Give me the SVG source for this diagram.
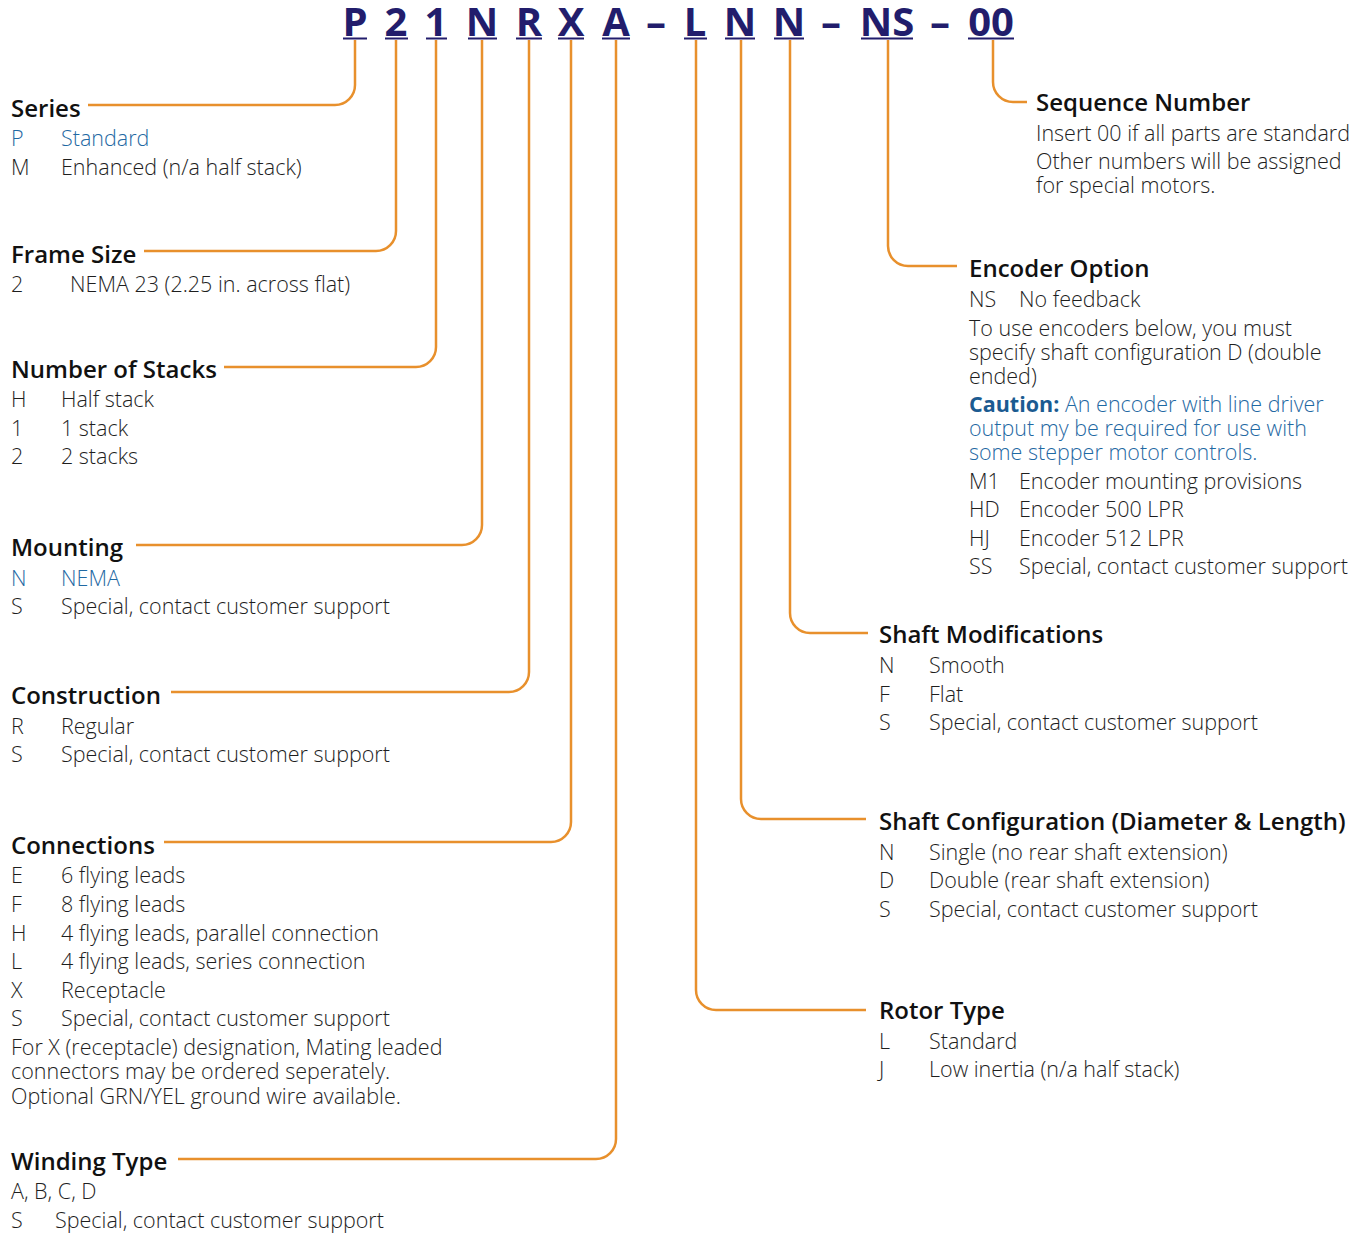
<svg xmlns="http://www.w3.org/2000/svg" width="1367" height="1234" viewBox="0 0 1367 1234">
  <style>
    .code { font-family: "Open Sans", "Noto Sans", "Liberation Sans", sans-serif; font-weight: 700; font-size: 40px; fill: #221d6c; text-anchor: middle; }
    .ul { stroke: #221d6c; stroke-width: 2; }
    .lead { fill: none; stroke: #e8902c; stroke-width: 2.5; }
    .h { font-family: "Open Sans", "Noto Sans", "Liberation Sans", sans-serif; font-weight: 600; font-size: 24px; fill: #111111; }
    .t { font-family: "Open Sans", "Noto Sans", "Liberation Sans", sans-serif; font-weight: 300; font-size: 21.5px; fill: #1e1e1e; }
    .b { fill: #1f69a3; }
    .cb { font-weight: 700; fill: #1b5b91; }
  </style>
  <rect width="1367" height="1234" fill="#ffffff"/>

  <!-- part number code -->
  <g id="code">
    <text class="code" x="355" y="36">P</text>
    <text class="code" x="396" y="36">2</text>
    <text class="code" x="436" y="36">1</text>
    <text class="code" x="482" y="36">N</text>
    <text class="code" x="529" y="36">R</text>
    <text class="code" x="571" y="36">X</text>
    <text class="code" x="616" y="36">A</text>
    <text class="code" x="656" y="36">–</text>
    <text class="code" x="695" y="36">L</text>
    <text class="code" x="740" y="36">N</text>
    <text class="code" x="789" y="36">N</text>
    <text class="code" x="831" y="36">–</text>
    <text class="code" x="887" y="36">NS</text>
    <text class="code" x="940" y="36">–</text>
    <text class="code" x="991" y="36">00</text>
    <line class="ul" x1="343" y1="38.5" x2="367" y2="38.5"/>
    <line class="ul" x1="385" y1="38.5" x2="408" y2="38.5"/>
    <line class="ul" x1="426" y1="38.5" x2="447" y2="38.5"/>
    <line class="ul" x1="468" y1="38.5" x2="497" y2="38.5"/>
    <line class="ul" x1="516" y1="38.5" x2="542" y2="38.5"/>
    <line class="ul" x1="558" y1="38.5" x2="584" y2="38.5"/>
    <line class="ul" x1="602" y1="38.5" x2="630" y2="38.5"/>
    <line class="ul" x1="684" y1="38.5" x2="707" y2="38.5"/>
    <line class="ul" x1="725" y1="38.5" x2="755" y2="38.5"/>
    <line class="ul" x1="774" y1="38.5" x2="804" y2="38.5"/>
    <line class="ul" x1="861" y1="38.5" x2="913" y2="38.5"/>
    <line class="ul" x1="968" y1="38.5" x2="1014" y2="38.5"/>
  </g>

  <!-- leader lines from each code position to its description -->
  <g id="connectors">
    <path class="lead" d="M355 40 V85 A20 20 0 0 1 335 105 H88"/>
    <path class="lead" d="M396 40 V231 A20 20 0 0 1 376 251 H144"/>
    <path class="lead" d="M436 40 V347 A20 20 0 0 1 416 367 H224"/>
    <path class="lead" d="M482 40 V525 A20 20 0 0 1 462 545 H136"/>
    <path class="lead" d="M529 40 V672 A20 20 0 0 1 509 692 H171"/>
    <path class="lead" d="M571 40 V822 A20 20 0 0 1 551 842 H164"/>
    <path class="lead" d="M616 40 V1139 A20 20 0 0 1 596 1159 H178"/>
    <path class="lead" d="M696 40 V990 A20 20 0 0 0 716 1010 H866"/>
    <path class="lead" d="M741 40 V799 A20 20 0 0 0 761 819 H866"/>
    <path class="lead" d="M790 40 V613 A20 20 0 0 0 810 633 H868"/>
    <path class="lead" d="M888 40 V246 A20 20 0 0 0 908 266 H957"/>
    <path class="lead" d="M993 40 V82 A20 20 0 0 0 1013 102 H1027"/>
  </g>

  <g id="series">
    <text class="h" x="11" y="117">Series</text>
    <text class="t b" x="11" y="146">P</text><text class="t b" x="61" y="146">Standard</text>
    <text class="t" x="11" y="175">M</text><text class="t" x="61" y="175">Enhanced (n/a half stack)</text>
  </g>

  <g id="frame-size">
    <text class="h" x="11" y="263">Frame Size</text>
    <text class="t" x="11" y="292">2</text><text class="t" x="70" y="292">NEMA 23 (2.25 in. across flat)</text>
  </g>

  <g id="stacks">
    <text class="h" x="11" y="378">Number of Stacks</text>
    <text class="t" x="11" y="407">H</text><text class="t" x="61" y="407">Half stack</text>
    <text class="t" x="11" y="436">1</text><text class="t" x="61" y="436">1 stack</text>
    <text class="t" x="11" y="464">2</text><text class="t" x="61" y="464">2 stacks</text>
  </g>

  <g id="mounting">
    <text class="h" x="11" y="556">Mounting</text>
    <text class="t b" x="11" y="586">N</text><text class="t b" x="61" y="586">NEMA</text>
    <text class="t" x="11" y="614">S</text><text class="t" x="61" y="614">Special, contact customer support</text>
  </g>

  <g id="construction">
    <text class="h" x="11" y="704">Construction</text>
    <text class="t" x="11" y="734">R</text><text class="t" x="61" y="734">Regular</text>
    <text class="t" x="11" y="762">S</text><text class="t" x="61" y="762">Special, contact customer support</text>
  </g>

  <g id="connections">
    <text class="h" x="11" y="854">Connections</text>
    <text class="t" x="11" y="883">E</text><text class="t" x="61" y="883">6 flying leads</text>
    <text class="t" x="11" y="912">F</text><text class="t" x="61" y="912">8 flying leads</text>
    <text class="t" x="11" y="941">H</text><text class="t" x="61" y="941">4 flying leads, parallel connection</text>
    <text class="t" x="11" y="969">L</text><text class="t" x="61" y="969">4 flying leads, series connection</text>
    <text class="t" x="11" y="998">X</text><text class="t" x="61" y="998">Receptacle</text>
    <text class="t" x="11" y="1026">S</text><text class="t" x="61" y="1026">Special, contact customer support</text>
    <text class="t" x="11" y="1055">For X (receptacle) designation, Mating leaded</text>
    <text class="t" x="11" y="1079">connectors may be ordered seperately.</text>
    <text class="t" x="11" y="1104">Optional GRN/YEL ground wire available.</text>
  </g>

  <g id="winding">
    <text class="h" x="11" y="1170">Winding Type</text>
    <text class="t" x="11" y="1199">A, B, C, D</text>
    <text class="t" x="11" y="1228">S</text><text class="t" x="55" y="1228">Special, contact customer support</text>
  </g>

  <g id="sequence">
    <text class="h" x="1036" y="111">Sequence Number</text>
    <text class="t" x="1036" y="141">Insert 00 if all parts are standard</text>
    <text class="t" x="1036" y="169">Other numbers will be assigned</text>
    <text class="t" x="1036" y="193">for special motors.</text>
  </g>

  <g id="encoder">
    <text class="h" x="969" y="277">Encoder Option</text>
    <text class="t" x="969" y="307">NS</text><text class="t" x="1019" y="307">No feedback</text>
    <text class="t" x="969" y="336">To use encoders below, you must</text>
    <text class="t" x="969" y="360">specify shaft configuration D (double</text>
    <text class="t" x="969" y="384">ended)</text>
    <text class="t b" x="969" y="412"><tspan class="cb">Caution:</tspan> An encoder with line driver</text>
    <text class="t b" x="969" y="436">output my be required for use with</text>
    <text class="t b" x="969" y="460">some stepper motor controls.</text>
    <text class="t" x="969" y="489">M1</text><text class="t" x="1019" y="489">Encoder mounting provisions</text>
    <text class="t" x="969" y="517">HD</text><text class="t" x="1019" y="517">Encoder 500 LPR</text>
    <text class="t" x="969" y="546">HJ</text><text class="t" x="1019" y="546">Encoder 512 LPR</text>
    <text class="t" x="969" y="574">SS</text><text class="t" x="1019" y="574">Special, contact customer support</text>
  </g>

  <g id="shaft-mod">
    <text class="h" x="879" y="643">Shaft Modifications</text>
    <text class="t" x="879" y="673">N</text><text class="t" x="929" y="673">Smooth</text>
    <text class="t" x="879" y="702">F</text><text class="t" x="929" y="702">Flat</text>
    <text class="t" x="879" y="730">S</text><text class="t" x="929" y="730">Special, contact customer support</text>
  </g>

  <g id="shaft-config">
    <text class="h" x="879" y="830">Shaft Configuration (Diameter &amp; Length)</text>
    <text class="t" x="879" y="860">N</text><text class="t" x="929" y="860">Single (no rear shaft extension)</text>
    <text class="t" x="879" y="888">D</text><text class="t" x="929" y="888">Double (rear shaft extension)</text>
    <text class="t" x="879" y="917">S</text><text class="t" x="929" y="917">Special, contact customer support</text>
  </g>

  <g id="rotor">
    <text class="h" x="879" y="1019">Rotor Type</text>
    <text class="t" x="879" y="1049">L</text><text class="t" x="929" y="1049">Standard</text>
    <text class="t" x="879" y="1077">J</text><text class="t" x="929" y="1077">Low inertia (n/a half stack)</text>
  </g>
</svg>
